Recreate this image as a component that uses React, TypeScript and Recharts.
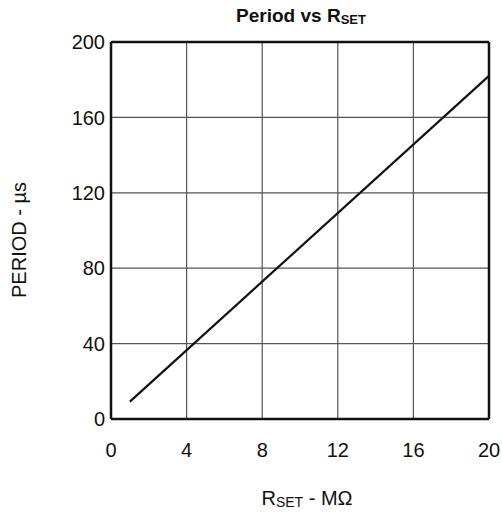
import React from 'react';
import {
  LineChart,
  Line,
  XAxis,
  YAxis,
  CartesianGrid,
  ReferenceLine,
} from 'recharts';

const rsetValues = [1, 20];
const periodValues = [9.2, 182];
const xTicks = [0, 4, 8, 12, 16, 20];
const yTicks = [0, 40, 80, 120, 160, 200];

const data = rsetValues.map((r, i) => ({ rset: r, period: periodValues[i] }));

const FONT = '"Liberation Sans", Arial, sans-serif';

const XLabel = () => (
  <text x={307} y={505} textAnchor="middle" fontFamily={FONT} fontSize={20} fill="#111">
    R<tspan fontSize={14} dy={2}>SET</tspan>
    <tspan dy={-2}> - MΩ</tspan>
  </text>
);

const YLabel = () => (
  <text
    x={19}
    y={240}
    textAnchor="middle"
    fontFamily={FONT}
    fontSize={20}
    fill="#111"
    transform="rotate(-90 19 240)"
    dominantBaseline="central"
  >
    PERIOD - µs
  </text>
);

export default function App() {
  return (
    <div style={{ position: 'fixed', left: 0, top: 0, width: 502, height: 512, background: '#fff' }}>
      <div
        style={{
          position: 'absolute',
          left: 0,
          width: 502,
          top: 5,
          textAlign: 'center',
          fontFamily: FONT,
          fontWeight: 'bold',
          fontSize: 19,
          color: '#111',
          paddingLeft: 100,
          boxSizing: 'border-box',
        }}
      >
        Period vs R<sub style={{ fontSize: 13, verticalAlign: -2 }}>SET</sub>
      </div>
      <LineChart
        width={502}
        height={512}
        data={data}
        margin={{ top: 42, right: 13, bottom: 63, left: 51 }}
      >
        <CartesianGrid stroke="#555" strokeWidth={1.2} />
        <XAxis
          dataKey="rset"
          type="number"
          domain={[0, 20]}
          ticks={xTicks}
          height={30}
          tickLine={false}
          tickSize={0}
          tickMargin={24}
          axisLine={false}
          tick={{ fontFamily: FONT, fontSize: 20, fill: '#111' }}
          label={{ content: () => <XLabel /> }}
        />
        <YAxis
          type="number"
          domain={[0, 200]}
          ticks={yTicks}
          width={60}
          tickLine={false}
          tickSize={0}
          tickMargin={6}
          axisLine={false}
          tick={{ fontFamily: FONT, fontSize: 20, fill: '#111' }}
          label={{ content: () => <YLabel /> }}
        />
        <ReferenceLine x={0} stroke="#111" strokeWidth={2.5} />
        <ReferenceLine x={20} stroke="#111" strokeWidth={2.5} />
        <ReferenceLine y={0} stroke="#111" strokeWidth={2.5} />
        <ReferenceLine y={200} stroke="#111" strokeWidth={2.5} />
        <Line
          type="linear"
          dataKey="period"
          stroke="#111"
          strokeWidth={2.2}
          dot={false}
          isAnimationActive={false}
        />
      </LineChart>
    </div>
  );
}
